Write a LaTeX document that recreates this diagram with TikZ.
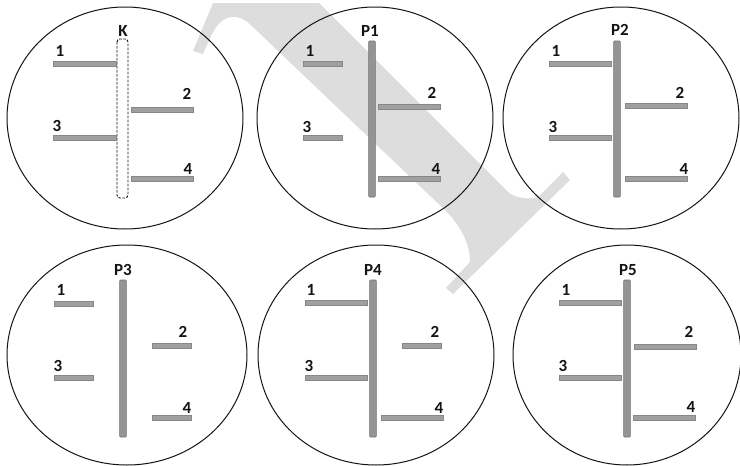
\documentclass[tikz,border=0pt]{standalone}
\usepackage{fontspec}
\setmainfont{Carlito}
\definecolor{wmark}{RGB}{221,221,221}
\definecolor{barfill}{RGB}{160,160,160}
\definecolor{baredge}{RGB}{135,135,135}
\definecolor{vfill}{RGB}{148,148,148}
\definecolor{vedge}{RGB}{115,115,115}
\definecolor{ink}{RGB}{20,20,20}
\tikzset{
  ring/.style={draw=ink, line width=1pt},
  hbarbox/.style={fill=barfill, draw=baredge, line width=0.5pt},
  vbarbox/.style={fill=vfill, draw=vedge, line width=0.6pt, rounded corners=1pt},
  lbl/.style={text=ink, font=\fontsize{17}{17}\selectfont\bfseries, inner sep=0pt, anchor=center},
  kbox/.style={draw=ink, line width=0.9pt, dash pattern=on 2.5pt off 1.5pt, rounded corners=3pt}
}
\newcommand{\hbr}[3]{\filldraw[hbarbox] (#1,#3-2.5) rectangle (#2,#3+2.5);}
\newcommand{\vbr}[3]{\filldraw[vbarbox] (#1-3.4,#2) rectangle (#1+3.4,#3);}
\begin{document}
\begin{tikzpicture}[x=1pt,y=-1pt]
\useasboundingbox (0,0) rectangle (740,466);
\fill[white] (0,0) rectangle (740,466);
% watermark
\fill[wmark] (213,3) -- (193,51) -- (203,54) -- (212,34)
  .. controls (218,22) and (226,16) .. (236,17)
  .. controls (243,18) and (248,22) .. (255,29)
  -- (447,212) .. controls (462,228) and (470,245) .. (470,262)
  -- (446,288) -- (453,294) -- (570,180) -- (563,172) -- (538,197)
  .. controls (528,200) and (515,198) .. (508,192)
  -- (319,3) -- cycle;
% circles
\draw[ring] (125,118) ellipse [x radius=118, y radius=111];
\draw[ring] (375,118) ellipse [x radius=118, y radius=111];
\draw[ring] (621,118) ellipse [x radius=118, y radius=111];
\draw[ring] (127,355) ellipse [x radius=120, y radius=110];
\draw[ring] (376,355) ellipse [x radius=118, y radius=110];
\draw[ring] (627,355) ellipse [x radius=114, y radius=110];

% ---- K ----
\node[lbl] (tK) at (123,31) {K};
\draw[kbox] (117,39) rectangle (128,198);
\hbr{53}{116}{64}   \node[lbl] (k1) at (60,51) {1};
\hbr{131}{193}{110} \node[lbl] (k2) at (187,94) {2};
\hbr{53}{116}{138}  \node[lbl] (k3) at (57,126) {3};
\hbr{131}{193}{179} \node[lbl] (k4) at (188,169) {4};

% ---- P1 ----
\node[lbl] (tP1) at (370,31) {P1};
\vbr{372}{41}{197}
\hbr{303}{342}{64}  \node[lbl] (a1) at (310,51) {1};
\hbr{378}{440}{107} \node[lbl] (a2) at (432,93) {2};
\hbr{303}{342}{138} \node[lbl] (a3) at (307,127) {3};
\hbr{378}{440}{179} \node[lbl] (a4) at (436,169) {4};

% ---- P2 ----
\node[lbl] (tP2) at (620,30) {P2};
\vbr{617}{41}{197}
\hbr{549}{611}{64}  \node[lbl] (b1) at (556,51) {1};
\hbr{625}{687}{106} \node[lbl] (b2) at (680,93) {2};
\hbr{549}{611}{138} \node[lbl] (b3) at (553,127) {3};
\hbr{625}{687}{179} \node[lbl] (b4) at (684,169) {4};

% ---- P3 ----
\node[lbl] (tP3) at (123,270) {P3};
\vbr{123}{280}{437}
\hbr{54}{93}{304}   \node[lbl] (c1) at (61,290) {1};
\hbr{152}{191}{346} \node[lbl] (c2) at (183,332) {2};
\hbr{54}{93}{378}   \node[lbl] (c3) at (58,366) {3};
\hbr{152}{191}{418} \node[lbl] (c4) at (187,408) {4};

% ---- P4 ----
\node[lbl] (tP4) at (373,270) {P4};
\vbr{373}{280}{437}
\hbr{305}{367}{303} \node[lbl] (d1) at (311,290) {1};
\hbr{402}{441}{346} \node[lbl] (d2) at (435,332) {2};
\hbr{305}{367}{378} \node[lbl] (d3) at (309,366) {3};
\hbr{381}{443}{418} \node[lbl] (d4) at (439,408) {4};

% ---- P5 ----
\node[lbl] (tP5) at (628,270) {P5};
\vbr{627}{280}{437}
\hbr{559}{621}{303} \node[lbl] (e1) at (566,290) {1};
\hbr{634}{696}{347} \node[lbl] (e2) at (689,332) {2};
\hbr{559}{621}{378} \node[lbl] (e3) at (563,366) {3};
\hbr{633}{695}{418} \node[lbl] (e4) at (691,407) {4};
\end{tikzpicture}
\end{document}
